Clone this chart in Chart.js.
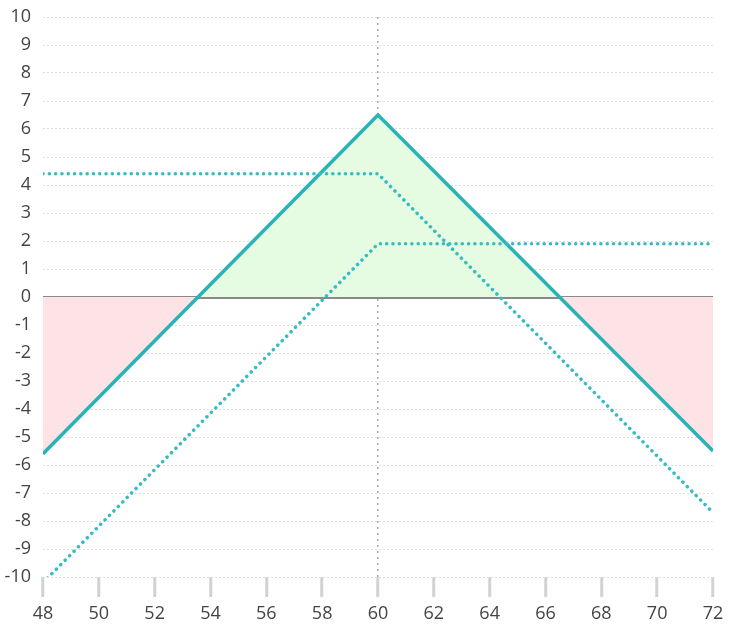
<!DOCTYPE html>
<html>
<head>
<meta charset="utf-8">
<script src="https://cdn.jsdelivr.net/npm/chart.js@4"></script>
<style>
  html, body { margin: 0; padding: 0; background: #fff; }
  #wrap { width: 744px; height: 638px; }
</style>
</head>
<body>
<div id="wrap"><canvas id="payoffChart" width="744" height="638"></canvas></div>
<script>
// Underlying price at expiry (x) and profit / loss (y)
const prices = [48, 60, 72];
const straddlePL = [-5.6, 6.5, -5.5];
const shortCallPL = [4.4, 4.4, -7.7];
const shortPutPL = [-10.2, 1.9, 1.9];

const xTicks = { min: 48, max: 72, step: 2 };
const yTicks = { min: -10, max: 10, step: 1 };

const teal = '#2ab3b7';
const dotTeal = '#36bcc1';

const toPoints = (ys) => prices.map((x, i) => ({ x: x, y: ys[i] }));

const ctx = document.getElementById('payoffChart').getContext('2d');

const dotted = {
  borderColor: dotTeal,
  borderWidth: 3.5,
  borderDash: [0.1, 6.2],
  borderCapStyle: 'round',
  pointRadius: 0,
  tension: 0,
  fill: false
};

const payoffChart = new Chart(ctx, {
  type: 'line',
  data: {
    datasets: [{
      label: 'Short straddle',
      data: toPoints(straddlePL),
      borderColor: teal,
      borderWidth: 3.5,
      pointRadius: 0,
      tension: 0,
      fill: {
        target: { value: 0 },
        above: '#e5fbe2',
        below: '#fde3e5'
      },
      order: 3
    }, Object.assign({
      label: 'Short call',
      data: toPoints(shortCallPL),
      order: 1
    }, dotted), Object.assign({
      label: 'Short put',
      data: toPoints(shortPutPL),
      order: 2
    }, dotted)]
  },
  options: {
    responsive: false,
    animation: false,
    devicePixelRatio: 1,
    layout: {
      padding: { top: 17, right: 31, left: 0, bottom: 0 }
    },
    plugins: {
      legend: { display: false },
      tooltip: { enabled: false },
      filler: { drawTime: 'beforeDatasetsDraw' }
    },
    scales: {
      x: {
        type: 'linear',
        min: xTicks.min,
        max: xTicks.max,
        afterFit: (scale) => { scale.height = 61; },
        border: {
          display: false,
          dash: (c) => (c.tick && c.tick.value === 60) ? [2, 4] : []
        },
        grid: {
          drawOnChartArea: true,
          drawTicks: true,
          tickLength: 20,
          tickWidth: 3,
          tickColor: '#d2d2d2',
          color: (c) => (c.tick && c.tick.value === 60) ? '#a9a9a9' : 'rgba(0,0,0,0)',
          lineWidth: 1.5
        },
        ticks: {
          stepSize: xTicks.step,
          padding: 6,
          color: '#444',
          font: { family: 'Open Sans', size: 18 }
        }
      },
      y: {
        min: yTicks.min,
        max: yTicks.max,
        afterFit: (scale) => {
          scale.width = 43;
          scale.paddingTop = 0;
          scale.paddingBottom = 0;
        },
        border: {
          display: false,
          dash: (c) => (c.tick && c.tick.value === 0) ? [] : [2, 2]
        },
        grid: {
          drawTicks: false,
          color: (c) => (c.tick && c.tick.value === 0) ? '#8a8a8a' : '#dedede',
          lineWidth: (c) => (c.tick && c.tick.value === 0) ? 3 : 1
        },
        ticks: {
          stepSize: yTicks.step,
          padding: 12,
          color: '#444',
          font: { family: 'Open Sans', size: 18 }
        }
      }
    }
  }
});
</script>
</body>
</html>
